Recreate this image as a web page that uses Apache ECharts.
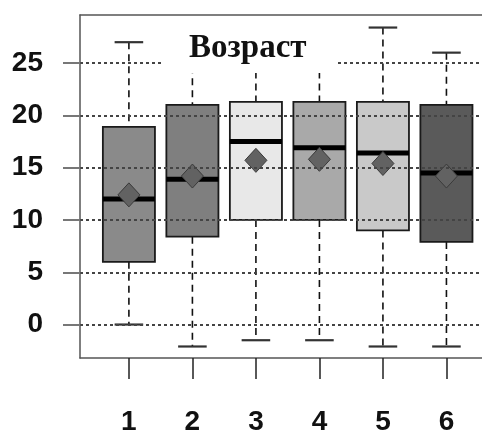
<!DOCTYPE html>
<html>
<head>
<meta charset="utf-8">
<script src="https://cdn.jsdelivr.net/npm/echarts@6/dist/echarts.min.js"></script>
<style>
  html, body { margin: 0; padding: 0; background: #fff; }
  #chart { width: 482px; height: 436px; }
</style>
</head>
<body>
<div id="chart"></div>
<script>
// groups on the x axis
const groups = ['1', '2', '3', '4', '5', '6'];
// box statistics, one entry per group
const lowWhisker = [0, -2.1, -1.5, -1.5, -2.1, -2.1];
const q1 = [6.0, 8.4, 10.0, 10.0, 9.0, 7.9];
const median = [12.0, 13.9, 17.5, 16.9, 16.4, 14.5];
const q3 = [18.9, 21.0, 21.3, 21.3, 21.3, 21.0];
const highWhisker = [27.0, 27.0, 26.5, 26.5, 28.4, 26.0];
const mean = [12.4, 14.2, 15.7, 15.8, 15.4, 14.2];
const boxColors = ['#8a8a8a', '#7f7f7f', '#e8e8e8', '#a9a9a9', '#c9c9c9', '#5a5a5a'];
const yTicks = [0, 5, 10, 15, 20, 25];
const titleText = 'Возраст';

const chart = echarts.init(document.getElementById('chart'));

// one row per box: [x, low, q1, median, q3, high, mean]
const boxData = groups.map((g, i) => [i + 1, lowWhisker[i], q1[i], median[i], q3[i], highWhisker[i], mean[i]]);

const renderBox = function (params, api) {
    const x = api.value(0);
    const i = params.dataIndex;
    const half = api.size([0.82, 0])[0] / 2;
    const capHalf = api.size([0.45, 0])[0] / 2;
    const pLow = api.coord([x, api.value(1)]);
    const pQ1 = api.coord([x, api.value(2)]);
    const pMed = api.coord([x, api.value(3)]);
    const pQ3 = api.coord([x, api.value(4)]);
    const pHigh = api.coord([x, api.value(5)]);
    const pMean = api.coord([x, api.value(6)]);
    const cx = pQ1[0];
    const dash = { stroke: '#111', lineWidth: 1.6, lineDash: [7, 5] };
    const cap = { stroke: '#333', lineWidth: 2.2 };
    return {
        type: 'group',
        children: [
            { type: 'line', shape: { x1: cx, y1: pHigh[1], x2: cx, y2: pQ3[1] }, style: dash },
            { type: 'line', shape: { x1: cx, y1: pQ1[1], x2: cx, y2: pLow[1] }, style: dash },
            { type: 'line', shape: { x1: cx - capHalf, y1: pHigh[1], x2: cx + capHalf, y2: pHigh[1] }, style: cap },
            { type: 'line', shape: { x1: cx - capHalf, y1: pLow[1], x2: cx + capHalf, y2: pLow[1] }, style: cap },
            {
                type: 'rect',
                shape: { x: cx - half, y: pQ3[1], width: half * 2, height: pQ1[1] - pQ3[1] },
                style: { fill: boxColors[i], stroke: '#1a1a1a', lineWidth: 1.8 }
            },
            {
                type: 'line',
                shape: { x1: cx - half, y1: pMed[1], x2: cx + half, y2: pMed[1] },
                style: { stroke: '#000', lineWidth: 5 }
            },
            {
                type: 'polygon',
                shape: { points: [[cx, pMean[1] - 12], [cx + 11, pMean[1]], [cx, pMean[1] + 12], [cx - 11, pMean[1]]] },
                style: { fill: '#626262', stroke: '#3a3a3a', lineWidth: 1 }
            }
        ]
    };
};

chart.setOption({
    animation: false,
    title: {
        text: titleText,
        left: 162,
        top: 20,
        padding: [8, 29, 5, 27],
        backgroundColor: '#fff',
        textStyle: {
            fontFamily: 'Liberation Serif, Times New Roman, serif',
            fontWeight: 'bold',
            fontSize: 33,
            lineHeight: 40,
            color: '#111'
        }
    },
    grid: {
        left: 80,
        top: 15,
        bottom: 74,
        right: 0,
        show: false
    },
    xAxis: [{
        type: 'value',
        min: 0.23,
        max: 6.56,
        splitLine: { show: false },
        axisLine: { show: true, onZero: false, lineStyle: { color: '#555', width: 1.5 } },
        axisTick: {
            show: true,
            customValues: [1, 2, 3, 4, 5, 6],
            length: 21,
            lineStyle: { color: '#222', width: 1.5 }
        },
        axisLabel: {
            customValues: [1, 2, 3, 4, 5, 6],
            formatter: v => groups[Math.round(v) - 1],
            margin: 50,
            color: '#111',
            fontFamily: 'Liberation Sans, Arial, sans-serif',
            fontWeight: 'bold',
            fontSize: 28
        }
    }, {
        // top edge of the frame
        type: 'value',
        position: 'top',
        min: 0.23,
        max: 6.56,
        axisLine: { show: true, onZero: false, lineStyle: { color: '#555', width: 1.5 } },
        axisTick: { show: false },
        axisLabel: { show: false },
        splitLine: { show: false }
    }],
    yAxis: {
        type: 'value',
        min: -3.2,
        max: 29.6,
        z: 3,
        axisLine: { show: true, onZero: false, lineStyle: { color: '#555', width: 1.5 } },
        axisTick: {
            show: true,
            customValues: yTicks,
            length: 17,
            lineStyle: { color: '#777', width: 2 }
        },
        axisLabel: {
            customValues: yTicks,
            margin: 37,
            color: '#111',
            fontFamily: 'Liberation Sans, Arial, sans-serif',
            fontWeight: 'bold',
            fontSize: 28
        },
        splitLine: {
            show: true,
            lineStyle: { color: '#444', width: 2, type: [3, 3] }
        }
    },
    series: [{
        type: 'custom',
        z: 2,
        renderItem: renderBox,
        encode: { x: 0, y: [1, 2, 3, 4, 5, 6] },
        data: boxData
    }]
});
</script>
</body>
</html>
